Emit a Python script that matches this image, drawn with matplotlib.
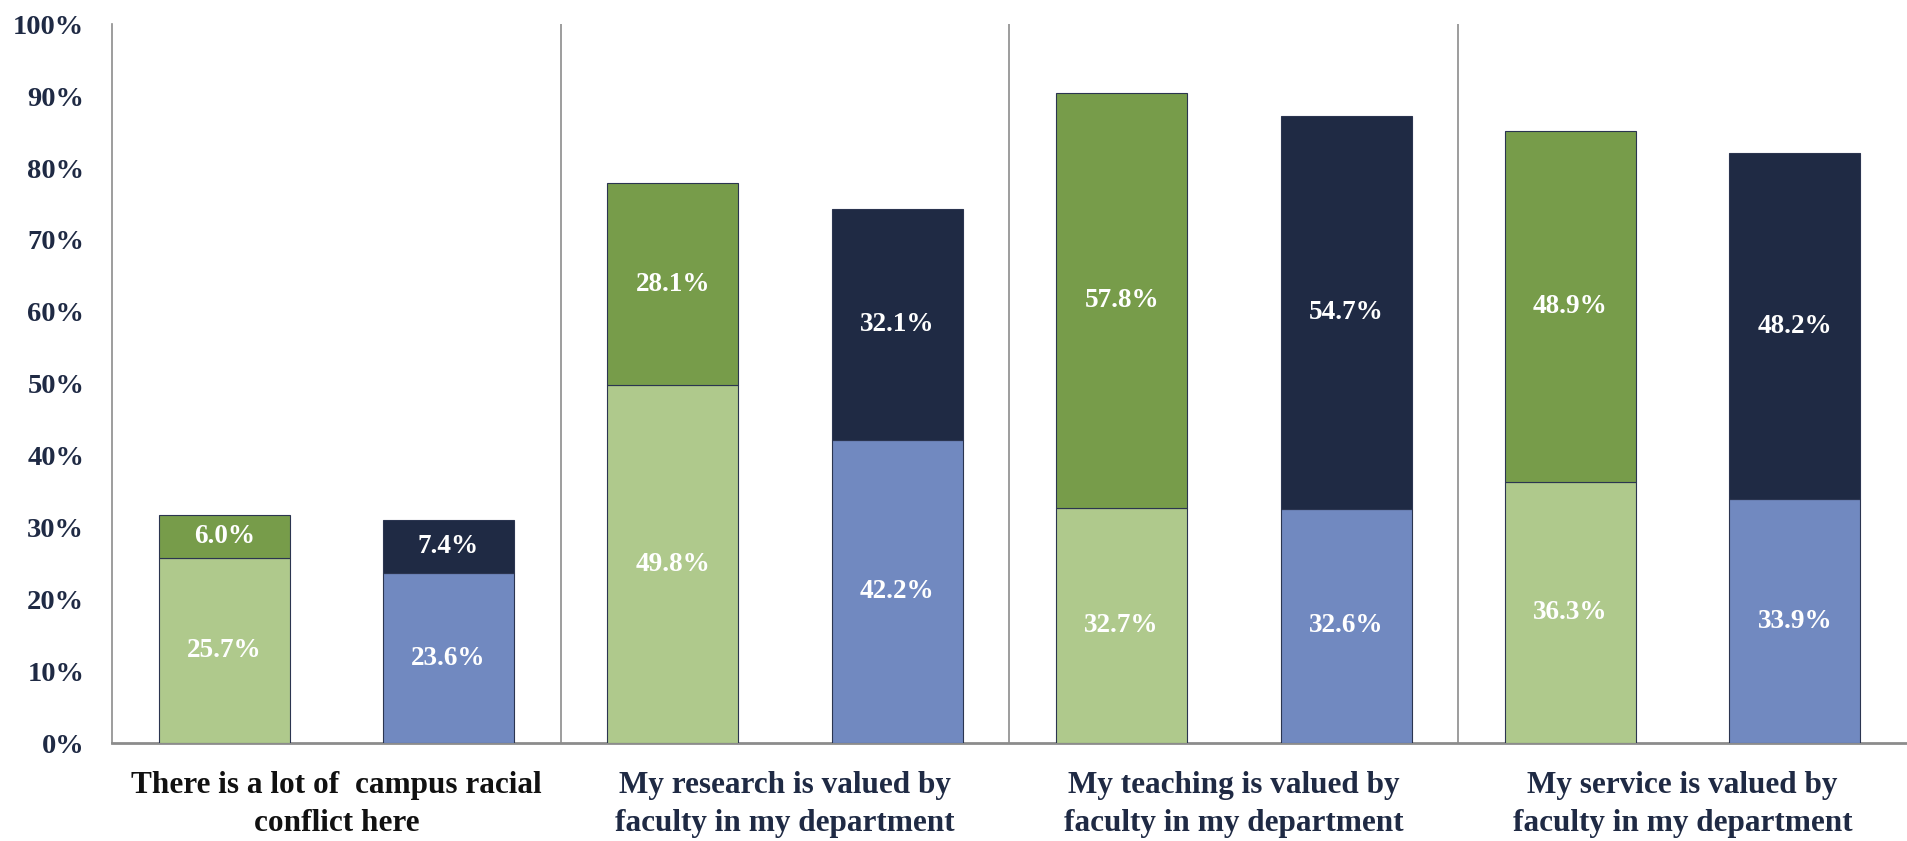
import numpy as np
import matplotlib
matplotlib.use("Agg")
import matplotlib.pyplot as plt

# categories and stacked values (percent)
categories = [
    "There is a lot of  campus racial\nconflict here",
    "My research is valued by\nfaculty in my department",
    "My teaching is valued by\nfaculty in my department",
    "My service is valued by\nfaculty in my department",
]
label_colors = ["#111111", "#1F2A44", "#1F2A44", "#1F2A44"]
green_low = [25.7, 49.8, 32.7, 36.3]
green_high = [6.0, 28.1, 57.8, 48.9]
blue_low = [23.6, 42.2, 32.6, 33.9]
blue_high = [7.4, 32.1, 54.7, 48.2]
yticks = [0, 10, 20, 30, 40, 50, 60, 70, 80, 90, 100]

LIGHT_GREEN = "#AFC98C"
DARK_GREEN = "#779C4A"
BLUE = "#7189C0"
NAVY = "#1F2A44"
EDGE = "#2B3550"
TEXT = "#1F2A44"

plt.rcParams['font.family'] = ['Liberation Serif', 'DejaVu Serif']
plt.rcParams['font.weight'] = 'bold'

fig = plt.figure(figsize=(19.07, 8.41), dpi=100)
ax = fig.add_axes([0.0587, 0.1165, 0.9413, 0.8545])

x = np.arange(len(categories))
w = 0.292
off = 0.25

def stack(xpos, low, high, c_low, c_high):
    ax.bar(xpos, low, w, color=c_low, edgecolor=EDGE, linewidth=0.8, zorder=3)
    ax.bar(xpos, high, w, bottom=low, color=c_high, edgecolor=EDGE, linewidth=0.8, zorder=3)
    for xi, lo, hi in zip(xpos, low, high):
        ax.text(xi, lo / 2, f"{lo:.1f}%", ha="center", va="center", color="white",
                fontsize=19.5, fontweight="bold", zorder=4)
        ax.text(xi, lo + hi / 2, f"{hi:.1f}%", ha="center", va="center", color="white",
                fontsize=19.5, fontweight="bold", zorder=4)

stack(x - off, green_low, green_high, LIGHT_GREEN, DARK_GREEN)
stack(x + off, blue_low, blue_high, BLUE, NAVY)

ax.set_xlim(-0.5, len(categories) - 0.5)
ax.set_ylim(0, 100)

# category separators
for b in np.arange(0.5, len(categories) - 0.5, 1.0):
    ax.axvline(b, color="#8C8C8C", linewidth=1.2, zorder=1)

for s in ["top", "right"]:
    ax.spines[s].set_visible(False)
ax.spines["left"].set_color("#8C8C8C")
ax.spines["left"].set_linewidth(1.2)
ax.spines["bottom"].set_color("#8C8C8C")
ax.spines["bottom"].set_linewidth(2)

ax.set_yticks(yticks)
ax.set_yticklabels([f"{t}%" for t in yticks])
ax.tick_params(axis="y", length=0, pad=20, labelsize=20.5, labelcolor=TEXT)
ax.set_xticks(x)
ax.set_xticklabels(categories, fontsize=22.5, linespacing=1.42)
for lab, c in zip(ax.get_xticklabels(), label_colors):
    lab.set_color(c)
ax.tick_params(axis="x", length=0, pad=20)

fig.savefig("out.png", dpi=100)
